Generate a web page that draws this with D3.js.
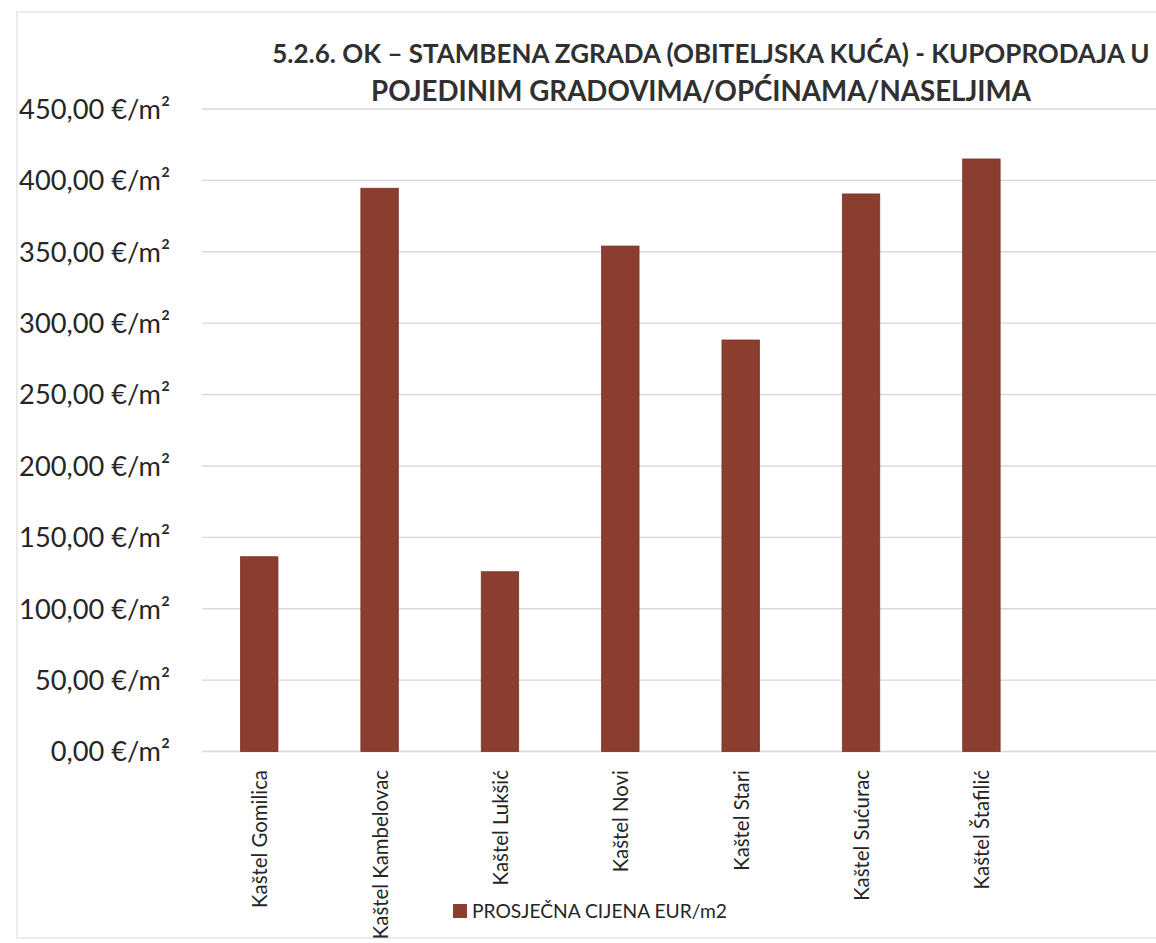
<!DOCTYPE html>
<html>
<head>
<meta charset="utf-8">
<script src="https://cdn.jsdelivr.net/npm/d3@7"></script>
<style>
  html, body { margin: 0; padding: 0; background: #fff; }
  svg { display: block; font-family: Lato, "Open Sans", sans-serif; }
</style>
</head>
<body>
<svg id="chart" width="1156" height="943"></svg>
<script>
// ---- data ----
const categories = ["Kaštel Gomilica", "Kaštel Kambelovac", "Kaštel Lukšić", "Kaštel Novi",
                    "Kaštel Stari", "Kaštel Sućurac", "Kaštel Štafilić"];
const values = [136.4, 394.5, 125.9, 354.0, 288.2, 390.5, 415.0];
const yTicks = [0, 50, 100, 150, 200, 250, 300, 350, 400, 450];
const titleLines = ["5.2.6. OK – STAMBENA ZGRADA (OBITELJSKA KUĆA) - KUPOPRODAJA U",
                    "POJEDINIM GRADOVIMA/OPĆINAMA/NASELJIMA"];
const legendLabel = "PROSJEČNA CIJENA EUR/m2";

// ---- layout ----
const svg = d3.select("#chart");
const barColor = "#8B3D2F";
const gridColor = "#d9d9d9";
const textColor = "#262626";

// faint scan border
svg.append("rect").attr("x", 17).attr("y", 12).attr("width", 1160).attr("height", 926)
  .attr("fill", "none").attr("stroke", "#ececec").attr("stroke-width", 2);

// helper: size a text so its width matches target
function fitWidth(sel, target) {
  const node = sel.node();
  const fs = parseFloat(sel.attr("font-size"));
  const len = node.getComputedTextLength();
  const nfs = fs * target / len;
  sel.attr("font-size", nfs);
  return nfs;
}

const y = d3.scaleLinear().domain([0, 450]).range([751.5, 109]);
const x = d3.scaleBand().domain(categories.concat([""])).range([199, 1162])
  .paddingInner(0.689).paddingOuter(0.345);

// gridlines
svg.append("g").selectAll("line").data(yTicks).join("line")
  .attr("x1", 202).attr("x2", 1156)
  .attr("y1", d => y(d)).attr("y2", d => y(d))
  .attr("stroke", gridColor).attr("stroke-width", 1.4);

// y tick labels
const fmt = v => v.toFixed(2).replace(".", ",") + " €/m²";
const yl = svg.append("g").selectAll("text").data(yTicks).join("text")
  .attr("x", 170).attr("y", d => y(d)).attr("dy", "0.36em")
  .attr("text-anchor", "end").attr("fill", textColor)
  .attr("font-size", 28).text(fmt);
// fit using the 450 label width
{
  const ref = yl.filter(d => d === 450);
  const fs = fitWidth(ref, 151);
  yl.attr("font-size", fs);
}

// bars
svg.append("g").selectAll("rect").data(categories).join("rect")
  .attr("x", d => x(d)).attr("width", x.bandwidth())
  .attr("y", (d, i) => y(values[i]))
  .attr("height", (d, i) => y(0) - y(values[i]))
  .attr("fill", barColor).attr("stroke", "#7a3328").attr("stroke-width", 0.8);

// category labels
const cl = svg.append("g").selectAll("text").data(categories).join("text")
  .attr("transform", d => `translate(${x(d) + x.bandwidth() / 2},770) rotate(-90)`)
  .attr("text-anchor", "end").attr("dominant-baseline", "central")
  .attr("fill", textColor).attr("font-size", 18).text(d => d);
{
  const fs = fitWidth(cl.filter((d, i) => i === 0), 138);
  cl.attr("font-size", fs);
}

// title
const t1 = svg.append("text").attr("x", 711).attr("y", 63).attr("text-anchor", "middle")
  .attr("font-weight", "bold").attr("fill", "#303030").attr("font-size", 27).text(titleLines[0]);
fitWidth(t1, 878);
const t2 = svg.append("text").attr("x", 701).attr("y", 101).attr("text-anchor", "middle")
  .attr("font-weight", "bold").attr("fill", "#303030").attr("font-size", 27).text(titleLines[1]);
fitWidth(t2, 660);

// legend
svg.append("rect").attr("x", 453).attr("y", 904).attr("width", 14).attr("height", 14)
  .attr("fill", barColor);
const lt = svg.append("text").attr("x", 472).attr("y", 911).attr("dy", "0.36em")
  .attr("fill", textColor).attr("font-size", 19).text(legendLabel);
fitWidth(lt, 255);
</script>
</body>
</html>
